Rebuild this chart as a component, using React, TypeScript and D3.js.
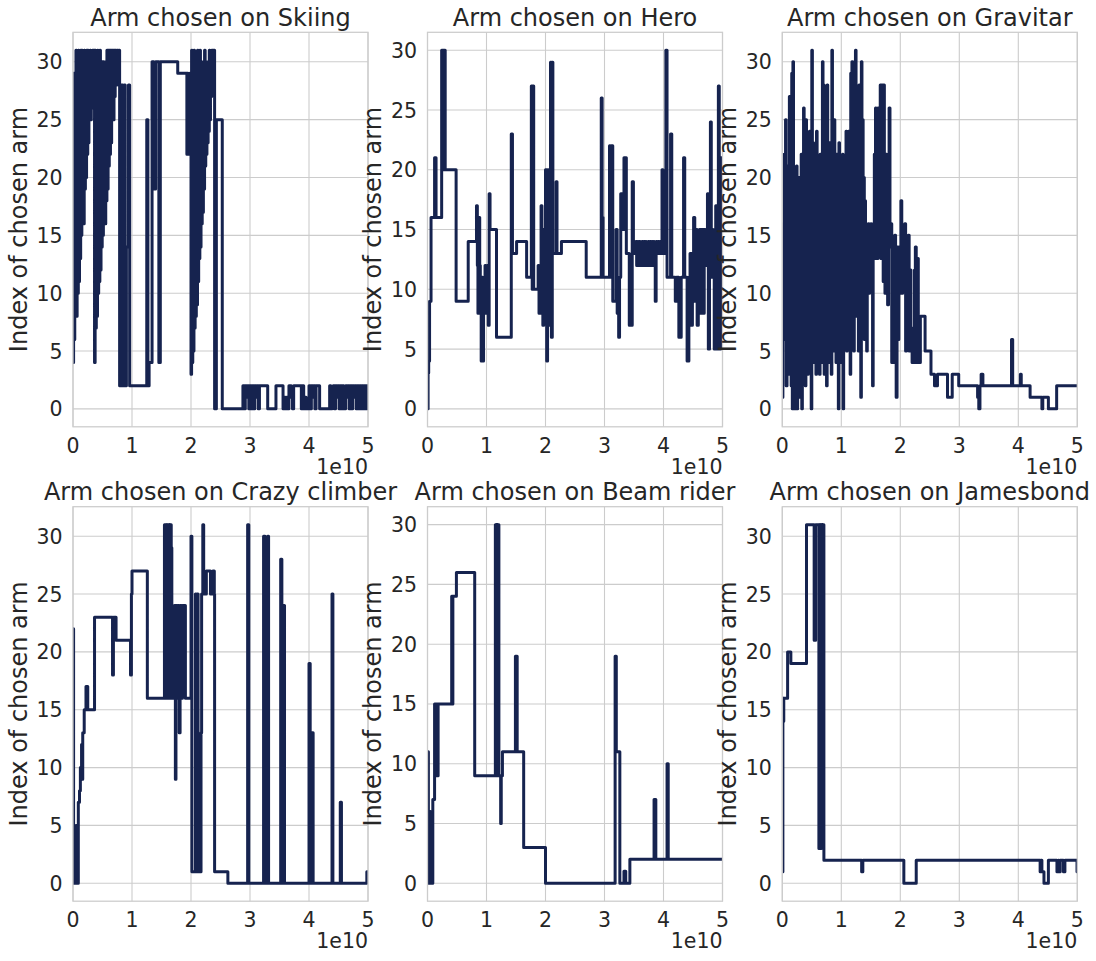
import React from 'react';
import * as d3 from 'd3';

type Pt = [number, number]; // [step in units of 1e10, index of chosen arm]

const skiing: Pt[] = [
  [0, 4], [0.01, 29], [0.02, 6], [0.03, 27], [0.04, 8], [0.05, 31], [0.06, 8], [0.07, 30], [0.08, 10], [0.09, 31],
  [0.1, 11], [0.11, 28], [0.12, 13], [0.13, 31], [0.14, 15], [0.15, 31], [0.16, 16], [0.17, 30], [0.18, 16], [0.19, 31],
  [0.2, 19], [0.21, 29], [0.22, 20], [0.23, 31], [0.24, 22], [0.25, 31], [0.26, 23], [0.27, 30], [0.28, 25], [0.29, 31],
  [0.3, 25], [0.31, 28], [0.32, 26], [0.33, 31], [0.34, 27], [0.35, 31], [0.365, 4], [0.375, 31], [0.385, 7], [0.395, 30],
  [0.405, 8], [0.415, 31], [0.425, 10], [0.435, 30], [0.445, 11], [0.455, 31], [0.465, 12], [0.475, 29], [0.485, 14], [0.495, 30],
  [0.505, 15], [0.515, 30], [0.525, 16], [0.535, 28], [0.545, 16], [0.555, 30], [0.565, 18], [0.575, 31], [0.585, 19], [0.595, 31],
  [0.605, 21], [0.615, 31], [0.625, 22], [0.635, 31], [0.645, 23], [0.655, 31], [0.665, 25], [0.675, 31], [0.685, 25], [0.695, 31],
  [0.705, 27], [0.715, 31], [0.73, 28], [0.745, 31], [0.76, 29], [0.775, 31], [0.79, 2], [0.82, 28], [0.845, 2], [0.87, 28],
  [0.885, 2], [0.905, 14], [0.94, 28], [0.96, 2], [1.25, 25], [1.27, 2], [1.29, 4], [1.34, 30], [1.37, 19], [1.4, 30],
  [1.455, 4], [1.48, 30], [1.775, 29], [1.93, 22], [1.94, 29], [1.95, 22], [1.96, 28], [1.97, 22], [1.98, 29], [1.99, 22],
  [2.0, 3], [2.01, 31], [2.02, 4], [2.03, 30], [2.04, 5], [2.05, 31], [2.06, 7], [2.07, 29], [2.08, 8], [2.09, 30],
  [2.1, 9], [2.11, 31], [2.12, 11], [2.13, 29], [2.14, 13], [2.15, 31], [2.16, 14], [2.17, 30], [2.18, 16], [2.19, 29],
  [2.2, 17], [2.21, 30], [2.22, 19], [2.23, 31], [2.24, 21], [2.25, 30], [2.26, 22], [2.27, 29], [2.28, 23], [2.29, 30],
  [2.3, 24], [2.31, 31], [2.32, 25], [2.33, 30], [2.34, 27], [2.35, 31], [2.36, 28], [2.37, 31], [2.38, 29], [2.39, 31],
  [2.4, 0], [2.43, 25], [2.53, 0], [2.88, 2], [2.9, 0], [2.92, 2], [2.94, 1], [2.96, 2], [2.98, 0], [3.0, 2],
  [3.02, 0], [3.04, 2], [3.06, 0], [3.08, 2], [3.1, 1], [3.12, 2], [3.14, 0], [3.16, 2], [3.3, 0], [3.44, 2],
  [3.56, 0], [3.58, 1], [3.6, 0], [3.62, 1], [3.64, 0], [3.66, 2], [3.7, 1], [3.72, 0], [3.74, 2], [3.87, 0],
  [3.89, 2], [3.91, 0], [3.93, 1], [3.95, 0], [4.0, 2], [4.02, 0], [4.04, 2], [4.06, 1], [4.08, 2], [4.1, 0],
  [4.12, 2], [4.18, 0], [4.35, 2], [4.37, 0], [4.39, 1], [4.41, 2], [4.43, 0], [4.45, 2], [4.47, 1], [4.49, 2],
  [4.51, 0], [4.53, 2], [4.55, 0], [4.57, 2], [4.59, 0], [4.62, 2], [4.64, 1], [4.66, 2], [4.68, 0], [4.7, 2],
  [4.72, 0], [4.74, 2], [4.76, 1], [4.78, 2], [4.8, 0], [4.82, 2], [4.84, 0], [4.86, 2], [4.88, 0], [4.9, 2],
  [4.92, 0], [4.94, 2], [4.96, 0], [4.98, 2], [5.0, 0],
];

const hero: Pt[] = [
  [0, 0], [0.01, 3], [0.02, 4], [0.035, 9], [0.06, 16], [0.12, 21], [0.145, 16], [0.24, 30], [0.25, 20], [0.26, 30],
  [0.275, 20], [0.285, 30], [0.3, 20], [0.485, 9], [0.69, 14], [0.83, 17], [0.845, 12], [0.855, 8], [0.87, 16], [0.885, 12],
  [0.895, 8], [0.91, 4], [0.925, 11], [0.935, 4], [0.95, 11], [0.965, 8], [0.975, 12], [0.99, 8], [1.0, 11], [1.015, 12],
  [1.03, 7], [1.045, 18], [1.06, 15], [1.17, 6], [1.42, 23], [1.44, 13], [1.51, 14], [1.68, 11], [1.76, 27], [1.775, 10],
  [1.785, 27], [1.8, 10], [1.875, 12], [1.89, 8], [1.905, 12], [1.925, 17], [1.94, 8], [1.955, 7], [1.97, 15], [1.985, 10],
  [2.0, 20], [2.02, 4], [2.035, 20], [2.05, 7], [2.07, 15], [2.085, 29], [2.1, 6], [2.115, 29], [2.125, 13], [2.18, 19],
  [2.195, 13], [2.27, 14], [2.69, 11], [2.945, 26], [2.96, 16], [2.975, 11], [3.085, 22], [3.1, 11], [3.115, 22], [3.14, 9],
  [3.195, 15], [3.215, 8], [3.24, 6], [3.255, 11], [3.275, 18], [3.295, 15], [3.33, 21], [3.35, 15], [3.36, 21], [3.37, 13],
  [3.42, 7], [3.47, 19], [3.49, 13], [3.53, 14], [3.545, 12], [3.56, 14], [3.575, 12], [3.59, 14], [3.605, 12], [3.62, 13],
  [3.635, 14], [3.65, 12], [3.665, 14], [3.68, 12], [3.695, 14], [3.71, 12], [3.725, 13], [3.74, 14], [3.755, 12], [3.77, 14],
  [3.785, 12], [3.8, 14], [3.815, 12], [3.83, 14], [3.845, 12], [3.86, 9], [3.875, 14], [3.89, 13], [3.905, 14], [3.92, 13],
  [3.935, 14], [3.95, 13], [3.965, 14], [3.975, 20], [3.99, 13], [4.04, 30], [4.06, 11], [4.12, 23], [4.14, 11], [4.2, 9],
  [4.22, 11], [4.26, 6], [4.3, 11], [4.34, 21], [4.36, 11], [4.4, 4], [4.43, 11], [4.45, 13], [4.47, 7], [4.49, 13],
  [4.51, 16], [4.53, 9], [4.55, 15], [4.57, 7], [4.59, 11], [4.61, 15], [4.63, 8], [4.65, 15], [4.67, 8], [4.69, 15],
  [4.71, 12], [4.73, 15], [4.745, 18], [4.76, 5], [4.78, 11], [4.795, 24], [4.81, 11], [4.825, 15], [4.84, 12], [4.86, 5],
  [4.885, 17], [4.9, 5], [4.93, 27], [4.945, 5], [4.97, 21], [4.985, 11], [5.0, 5],
];

const gravitar: Pt[] = [
  [0, 1], [0.01, 16], [0.02, 6], [0.03, 22], [0.04, 7], [0.055, 25], [0.065, 2], [0.08, 17], [0.09, 5], [0.1, 21],
  [0.11, 3], [0.12, 27], [0.13, 8], [0.14, 20], [0.15, 2], [0.16, 29], [0.17, 0], [0.18, 30], [0.19, 6], [0.2, 19],
  [0.21, 0], [0.22, 14], [0.23, 3], [0.24, 21], [0.25, 0], [0.26, 17], [0.27, 9], [0.28, 20], [0.29, 1], [0.3, 14],
  [0.31, 8], [0.32, 22], [0.33, 0], [0.34, 16], [0.35, 4], [0.36, 26], [0.37, 7], [0.38, 18], [0.39, 2], [0.4, 25],
  [0.41, 10], [0.42, 21], [0.43, 3], [0.44, 17], [0.45, 8], [0.46, 24], [0.47, 5], [0.48, 20], [0.49, 0], [0.5, 31],
  [0.51, 7], [0.52, 23], [0.53, 4], [0.54, 19], [0.55, 9], [0.56, 15], [0.57, 3], [0.58, 24], [0.59, 7], [0.6, 21],
  [0.61, 5], [0.62, 17], [0.63, 3], [0.64, 22], [0.65, 10], [0.66, 18], [0.67, 4], [0.68, 30], [0.69, 8], [0.7, 28],
  [0.71, 3], [0.72, 16], [0.73, 7], [0.74, 24], [0.75, 2], [0.76, 28], [0.77, 6], [0.78, 19], [0.79, 4], [0.8, 23],
  [0.81, 10], [0.82, 17], [0.83, 3], [0.84, 31], [0.85, 8], [0.86, 20], [0.87, 5], [0.88, 25], [0.89, 9], [0.9, 18],
  [0.91, 4], [0.92, 22], [0.93, 7], [0.94, 15], [0.95, 0], [0.96, 23], [0.97, 10], [0.98, 19], [0.99, 4], [1.0, 16],
  [1.01, 9], [1.02, 22], [1.03, 0], [1.04, 20], [1.05, 6], [1.06, 14], [1.07, 10], [1.08, 24], [1.09, 5], [1.1, 19],
  [1.11, 8], [1.12, 24], [1.13, 12], [1.14, 17], [1.15, 3], [1.16, 29], [1.17, 10], [1.18, 30], [1.19, 9], [1.2, 21],
  [1.21, 5], [1.22, 30], [1.23, 11], [1.24, 31], [1.25, 8], [1.26, 26], [1.27, 13], [1.28, 24], [1.29, 5], [1.3, 28],
  [1.31, 11], [1.32, 22], [1.33, 1], [1.34, 30], [1.35, 9], [1.36, 25], [1.37, 12], [1.38, 20], [1.39, 6], [1.4, 18],
  [1.41, 10], [1.42, 16], [1.43, 5], [1.44, 15], [1.45, 11], [1.46, 16], [1.47, 10], [1.48, 14], [1.49, 13], [1.5, 16],
  [1.51, 12], [1.52, 15], [1.53, 2], [1.54, 16], [1.55, 14], [1.56, 22], [1.57, 13], [1.58, 26], [1.59, 14], [1.6, 20],
  [1.61, 13], [1.62, 26], [1.63, 14], [1.64, 18], [1.65, 14], [1.66, 28], [1.67, 13], [1.68, 28], [1.69, 16], [1.7, 28],
  [1.71, 11], [1.72, 28], [1.73, 14], [1.74, 10], [1.75, 14], [1.76, 22], [1.77, 14], [1.785, 9], [1.8, 14], [1.81, 26],
  [1.825, 14], [1.84, 16], [1.855, 4], [1.865, 14], [1.89, 4], [1.905, 15], [1.92, 8], [1.93, 1], [1.945, 14], [1.96, 6],
  [1.975, 14], [1.99, 10], [2.0, 14], [2.01, 18], [2.025, 10], [2.04, 14], [2.06, 12], [2.075, 16], [2.09, 5], [2.105, 14],
  [2.12, 13], [2.135, 15], [2.15, 5], [2.165, 12], [2.18, 7], [2.2, 4], [2.24, 12], [2.255, 14], [2.27, 4], [2.29, 13],
  [2.305, 8], [2.32, 4], [2.34, 8], [2.42, 5], [2.52, 3], [2.58, 2], [2.63, 3], [2.8, 1], [2.88, 3], [2.99, 2],
  [3.31, 1], [3.33, 0], [3.35, 2], [3.37, 3], [3.4, 2], [3.885, 6], [3.905, 2], [4.035, 3], [4.05, 2], [4.2, 1],
  [4.4, 0], [4.415, 1], [4.51, 0], [4.65, 2], [5.0, 2],
];

const crazyClimber: Pt[] = [
  [0, 22], [0.01, 0], [0.02, 2], [0.04, 0], [0.05, 5], [0.07, 0], [0.09, 7], [0.11, 8], [0.125, 10], [0.135, 9],
  [0.145, 12], [0.155, 9], [0.165, 13], [0.19, 15], [0.22, 17], [0.25, 15], [0.365, 23], [0.67, 18], [0.685, 23], [0.73, 21],
  [0.975, 18], [0.99, 25], [1.0, 27], [1.26, 16], [1.55, 31], [1.575, 16], [1.59, 31], [1.6, 16], [1.615, 31], [1.635, 16],
  [1.645, 31], [1.665, 29], [1.675, 16], [1.69, 23], [1.7, 16], [1.72, 24], [1.735, 9], [1.745, 24], [1.76, 16], [1.78, 24],
  [1.8, 13], [1.815, 24], [1.84, 16], [1.855, 24], [1.865, 19], [1.875, 24], [1.905, 16], [2.0, 30], [2.015, 1], [2.075, 25],
  [2.09, 1], [2.105, 25], [2.12, 1], [2.17, 13], [2.18, 25], [2.2, 31], [2.215, 25], [2.26, 27], [2.33, 25], [2.37, 27],
  [2.395, 25], [2.4, 1], [2.625, 0], [2.96, 31], [2.98, 0], [3.23, 30], [3.255, 0], [3.3, 30], [3.315, 0], [3.52, 28],
  [3.54, 0], [3.565, 24], [3.585, 0], [4.0, 19], [4.02, 0], [4.05, 13], [4.07, 0], [4.39, 25], [4.405, 0], [4.53, 7],
  [4.55, 0], [4.98, 1], [5.0, 1],
];

const beamRider: Pt[] = [
  [0, 11], [0.015, 0], [0.025, 6], [0.05, 0], [0.09, 7], [0.12, 15], [0.13, 9], [0.14, 15], [0.15, 9], [0.16, 15],
  [0.17, 9], [0.18, 15], [0.41, 24], [0.42, 15], [0.43, 24], [0.49, 26], [0.8, 9], [1.15, 30], [1.16, 9], [1.17, 30],
  [1.18, 9], [1.19, 30], [1.21, 9], [1.24, 5], [1.25, 9], [1.27, 11], [1.49, 19], [1.52, 11], [1.63, 3], [2.0, 0],
  [3.18, 19], [3.2, 11], [3.26, 0], [3.33, 1], [3.36, 0], [3.43, 2], [3.84, 7], [3.87, 2], [4.06, 10], [4.08, 2],
  [5.0, 2],
];

const jamesbond: Pt[] = [
  [0, 1], [0.01, 16], [0.02, 14], [0.025, 16], [0.09, 20], [0.145, 19], [0.41, 31], [0.54, 21], [0.565, 31],
  [0.62, 3], [0.635, 31], [0.65, 3], [0.66, 31], [0.675, 10], [0.685, 31], [0.705, 2], [1.345, 1], [1.365, 2], [2.06, 0],
  [2.27, 2], [4.37, 1], [4.385, 2], [4.4, 1], [4.435, 0], [4.51, 2], [4.655, 1], [4.68, 2], [4.69, 1], [4.71, 2],
  [4.765, 1], [4.79, 2], [4.995, 1], [5.0, 1],
];

const titles = [
  'Arm chosen on Skiing', 'Arm chosen on Hero', 'Arm chosen on Gravitar',
  'Arm chosen on Crazy climber', 'Arm chosen on Beam rider', 'Arm chosen on Jamesbond',
];
const series = [skiing, hero, gravitar, crazyClimber, beamRider, jamesbond];

const xTicks = [0, 1, 2, 3, 4, 5];
const yTicks = [0, 5, 10, 15, 20, 25, 30];

const W = 1096;
const H = 961;
const colLeft = [73, 427.5, 782.3];
const rowTop = [32.3, 506.7];
const axW = 295;
const axH = 394.5;

const lineColor = '#16234f';
const gridColor = '#cccccc';
const textColor = '#262626';
const font = '"DejaVu Sans", Verdana, sans-serif';

const Panel: React.FC<{ idx: number; title: string; data: Pt[]; left: number; top: number }> = ({ idx, title, data, left, top }) => {
  const x = d3.scaleLinear().domain([0, 5]).range([0, axW]);
  const [lo, hi] = d3.extent(data, d => d[1]) as [number, number];
  const pad = (hi - lo) * 0.05;
  const y = d3.scaleLinear().domain([lo - pad, hi + pad]).range([axH, 0]);
  const line = d3.line<Pt>().x(d => x(d[0])).y(d => y(d[1])).curve(d3.curveStepAfter);
  const clipId = `clip-${idx}`;

  return (
    <g transform={`translate(${left},${top})`}>
      <defs>
        <clipPath id={clipId}>
          <rect width={axW} height={axH} />
        </clipPath>
      </defs>
      {/* grid */}
      {xTicks.map(t => (
        <line key={`gx${t}`} x1={x(t)} x2={x(t)} y1={0} y2={axH} stroke={gridColor} strokeWidth={1.1} />
      ))}
      {yTicks.map(t => (
        <line key={`gy${t}`} x1={0} x2={axW} y1={y(t)} y2={y(t)} stroke={gridColor} strokeWidth={1.1} />
      ))}

      <path
        d={line(data) ?? ''}
        fill="none"
        stroke={lineColor}
        strokeWidth={3}
        strokeLinejoin="round"
        clipPath={`url(#${clipId})`}
      />

      <rect width={axW} height={axH} fill="none" stroke={gridColor} strokeWidth={1.25} />

      {/* tick labels */}
      {xTicks.map(t => (
        <text key={`tx${t}`} x={x(t)} y={axH + 26} textAnchor="middle" fontSize={20.5} fill={textColor}>
          {t}
        </text>
      ))}
      {yTicks.map(t => (
        <text key={`ty${t}`} x={-10.5} y={y(t) + 7.5} textAnchor="end" fontSize={20.5} fill={textColor}>
          {t}
        </text>
      ))}
      <text x={axW} y={axH + 47} textAnchor="end" fontSize={20.5} fill={textColor}>1e10</text>

      <text x={axW / 2} y={-6.3} textAnchor="middle" fontSize={24} fill={textColor}>{title}</text>
      <text
        transform={`translate(${-46.3},${axH / 2}) rotate(-90)`}
        textAnchor="middle"
        fontSize={24}
        fill={textColor}
      >
        Index of chosen arm
      </text>
    </g>
  );
};

export default function App() {
  return (
    <svg
      width={W}
      height={H}
      style={{ position: 'absolute', left: 0, top: 0, background: '#fff' }}
      fontFamily={font}
    >
      <rect width={W} height={H} fill="#fff" />
      {series.map((data, i) => (
        <Panel
          key={titles[i]}
          idx={i}
          title={titles[i]}
          data={data}
          left={colLeft[i % 3]}
          top={rowTop[Math.floor(i / 3)]}
        />
      ))}
    </svg>
  );
}
